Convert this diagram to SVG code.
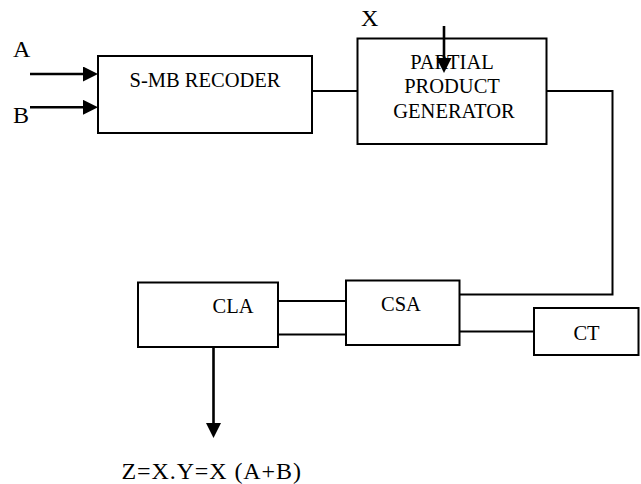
<svg xmlns="http://www.w3.org/2000/svg" width="641" height="484" viewBox="0 0 641 484">
<style>
.box{fill:#fff;stroke:#000;stroke-width:2}
.t{font-family:"Liberation Serif","Times New Roman",serif;font-size:20.5px;fill:#000}
.lbl{font-family:"Liberation Serif","Times New Roman",serif;font-size:24px;fill:#000}
.w{fill:none;stroke:#000;stroke-width:2}
.a{fill:none;stroke:#000;stroke-width:2.6}
</style>
<defs>
<marker id="ah" markerUnits="userSpaceOnUse" markerWidth="16" markerHeight="16" refX="0" refY="7.5" orient="auto" viewBox="0 0 16 16">
<path d="M0,0 L15,7.5 L0,15 Z" fill="#000"/>
</marker>
</defs>
<rect width="641" height="484" fill="#fff"/>
<g id="recoder">
<rect class="box" x="98" y="56" width="214" height="77"/>
<text class="t" x="205" y="87" text-anchor="middle">S-MB RECODER</text>
</g>
<g id="ppg">
<rect class="box" x="357.5" y="38.5" width="189" height="105.5"/>
<text class="t" x="452" y="69" text-anchor="middle">PARTIAL</text>
<text class="t" x="452" y="93" text-anchor="middle">PRODUCT</text>
<text class="t" x="454" y="118" text-anchor="middle">GENERATOR</text>
</g>
<g id="cla">
<rect class="box" x="138" y="282.5" width="140" height="64.5"/>
<text class="t" x="212.5" y="313">CLA</text>
</g>
<g id="csa">
<rect class="box" x="346" y="280.5" width="113.5" height="64.5"/>
<text class="t" x="381" y="311">CSA</text>
</g>
<g id="ct">
<rect class="box" x="534" y="308" width="104.5" height="47"/>
<text class="t" x="586.5" y="339.5" text-anchor="middle">CT</text>
</g>
<g id="labels">
<text class="lbl" x="13" y="57">A</text>
<text class="lbl" x="13" y="123">B</text>
<text class="lbl" x="361" y="26">X</text>
<text class="lbl" x="121.5" y="478.5" font-size="24.5" letter-spacing="0.9">Z=X.Y=X (A+B)</text>
</g>
<g id="connectors">
<line class="a" x1="30" y1="74" x2="83" y2="74" marker-end="url(#ah)"/>
<line class="a" x1="30" y1="107.3" x2="83" y2="107.3" marker-end="url(#ah)"/>
<line class="a" x1="444" y1="26" x2="444" y2="58" marker-end="url(#ah)"/>
<line class="w" x1="312" y1="91" x2="357.5" y2="91"/>
<polyline class="w" points="546.5,91 612.5,91 612.5,294.5 459.5,294.5"/>
<line class="w" x1="278" y1="301" x2="346" y2="301"/>
<line class="w" x1="278" y1="334.5" x2="346" y2="334.5"/>
<line class="w" x1="459.5" y1="331.5" x2="534" y2="331.5"/>
<line class="a" x1="213.5" y1="347" x2="213.5" y2="423" marker-end="url(#ah)"/>
</g>
</svg>
